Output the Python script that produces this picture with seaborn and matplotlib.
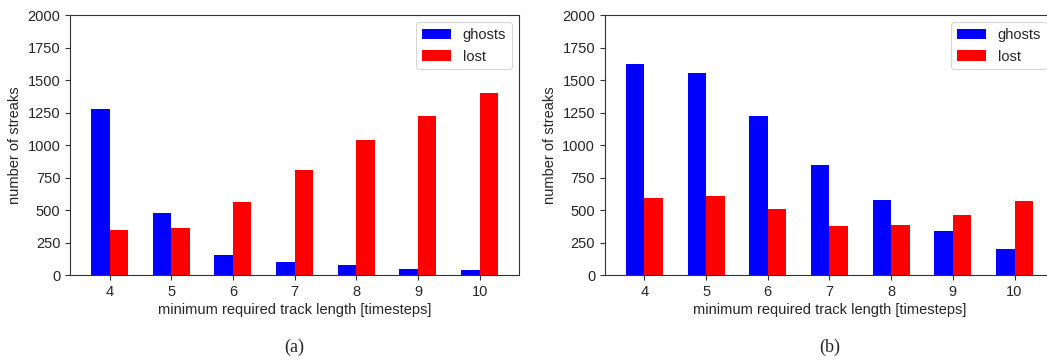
import matplotlib
matplotlib.use("Agg")
import matplotlib.pyplot as plt
import seaborn as sns
import pandas as pd

track_lengths = ["4", "5", "6", "7", "8", "9", "10"]
ghosts_a = [1276, 475, 151, 98, 74, 46, 36]
lost_a = [344, 359, 560, 806, 1037, 1222, 1399]
ghosts_b = [1623, 1553, 1222, 845, 575, 336, 198]
lost_b = [590, 606, 506, 375, 383, 460, 567]
series_names = ["ghosts", "lost"]
y_ticks = [0, 250, 500, 750, 1000, 1250, 1500, 1750, 2000]
captions = ["(a)", "(b)"]

sns.set_style("ticks")
plt.rcParams["font.family"] = ["Liberation Sans", "DejaVu Sans"]
plt.rcParams["font.size"] = 10.5

fig = plt.figure(figsize=(10.47, 3.6), dpi=100)
ax_a = fig.add_axes([0.0669, 0.236, 0.4289, 0.722])
ax_b = fig.add_axes([0.5778, 0.236, 0.4289, 0.722])

palette = {"ghosts": "#0000ff", "lost": "#ff0000"}

for ax, g, l, cap in [(ax_a, ghosts_a, lost_a, captions[0]), (ax_b, ghosts_b, lost_b, captions[1])]:
    df = pd.DataFrame({
        "length": track_lengths * 2,
        "value": g + l,
        "series": [series_names[0]] * len(g) + [series_names[1]] * len(l),
    })
    sns.barplot(data=df, x="length", y="value", hue="series", order=track_lengths,
                hue_order=series_names, palette=palette, width=0.6, gap=0,
                saturation=1, ax=ax, edgecolor="none", linewidth=0)
    ax.set_xlim(-0.64, len(track_lengths) - 1 + 0.64)
    ax.set_ylim(0, 2000)
    ax.set_yticks(y_ticks)
    ax.set_xlabel("minimum required track length [timesteps]", fontsize=10.5, labelpad=3)
    ax.set_ylabel("number of streaks", fontsize=10.5, labelpad=4)
    ax.tick_params(axis="both", labelsize=10.5, length=3.5, width=0.8, direction="out", color="#333333")
    for sp in ax.spines.values():
        sp.set_visible(True)
        sp.set_color("#333333")
        sp.set_linewidth(0.8)
    leg = ax.legend(loc="upper right", fontsize=10.5, frameon=True, fancybox=True,
                    framealpha=0.8, edgecolor="#cccccc", handlelength=2.0)
    leg.get_frame().set_linewidth(0.8)
    ax.text(0.5, -0.277, cap, transform=ax.transAxes, ha="center", va="center",
            fontsize=13, family=["Liberation Serif", "DejaVu Serif"])

fig.savefig("out.png", dpi=100)
